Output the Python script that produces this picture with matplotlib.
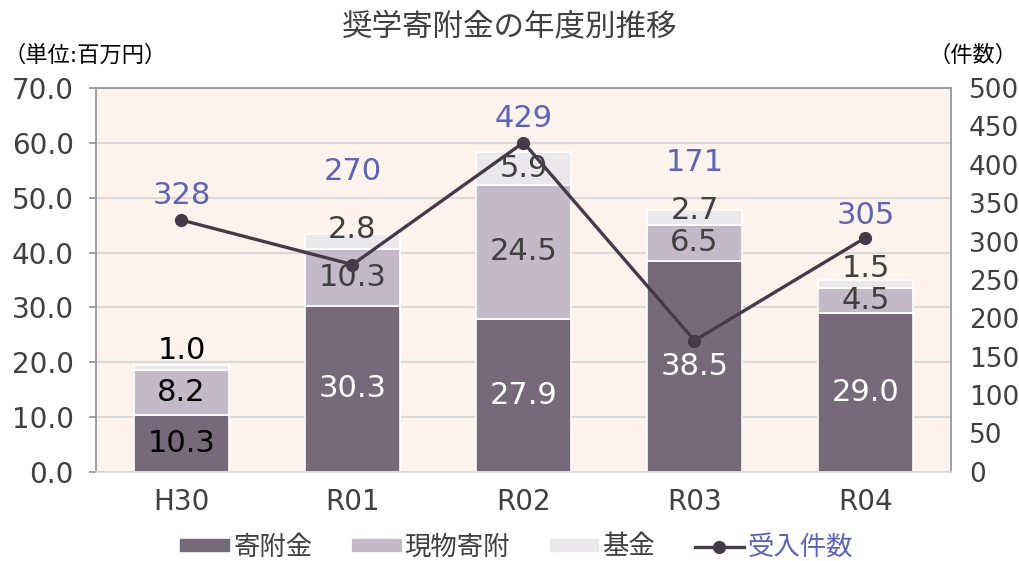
import numpy as np
import matplotlib.pyplot as plt
from matplotlib.patches import Patch
from matplotlib.lines import Line2D

plt.rcParams['font.family'] = ['DejaVu Sans', 'Noto Sans CJK JP']

years = ["H30", "R01", "R02", "R03", "R04"]
kifu = [10.3, 30.3, 27.9, 38.5, 29.0]
genbutsu = [8.2, 10.3, 24.5, 6.5, 4.5]
kikin = [1.0, 2.8, 5.9, 2.7, 1.5]
counts = [328, 270, 429, 171, 305]

# hand-placed label offsets (points), as in the original chart
count_off = [18, 67, 17, 128, 16]
kikin_off = [12, 9, 0, 5, 11]

c_dark = "#76697a"
c_mid = "#c2bac6"
c_light = "#ebe8ec"
c_line = "#463a4a"
c_blue = "#5b65b8"
c_text = "#404040"

fig = plt.figure(figsize=(10.19, 5.61), dpi=100)
ax = fig.add_axes([0.0942, 0.159, 0.839, 0.684])
ax.set_facecolor("#fdf3ec")

x = np.arange(len(years))
w = 0.56
ax.bar(x, kifu, w, color=c_dark, edgecolor="white", linewidth=1.2, zorder=2)
ax.bar(x, genbutsu, w, bottom=kifu, color=c_mid, edgecolor="white", linewidth=1.2, zorder=2)
bot3 = np.array(kifu) + np.array(genbutsu)
ax.bar(x, kikin, w, bottom=bot3, color=c_light, edgecolor="white", linewidth=1.2, zorder=2)

ax.set_ylim(0, 70)
ax.set_xlim(-0.5, len(years) - 0.5)
ax.set_yticks(np.arange(0, 71, 10))
ax.set_yticklabels([f"{v:.1f}" for v in np.arange(0, 71, 10)], fontsize=20, color=c_text)
ax.set_xticks(x)
ax.set_xticklabels(years, fontsize=20, color=c_text)
ax.tick_params(axis="x", length=0, pad=12)
ax.tick_params(axis="y", length=5, width=1.2, color="#909090", pad=11)
ax.grid(axis="y", color="#d9d9d9", linewidth=1.5, zorder=0)
ax.set_axisbelow(True)
for s in ax.spines.values():
    s.set_color("#909090")
    s.set_linewidth(1.2)
ax.spines["bottom"].set_color("#d9d9d9")

# data labels inside bars
for i in range(len(years)):
    first = i == 0
    ax.text(x[i], kifu[i] / 2, f"{kifu[i]:.1f}", ha="center", va="center",
            fontsize=22, color="black" if first else "white", zorder=3)
    ax.text(x[i], kifu[i] + genbutsu[i] / 2, f"{genbutsu[i]:.1f}", ha="center", va="center",
            fontsize=22, color="black" if first else c_text, zorder=3)
    ax.annotate(f"{kikin[i]:.1f}", (x[i], bot3[i] + kikin[i] / 2), xytext=(0, kikin_off[i]),
                textcoords="offset points", ha="center", va="center",
                fontsize=22, color="black" if first else c_text, zorder=3)

ax2 = ax.twinx()
ax2.set_ylim(0, 500)
ax2.set_yticks(np.arange(0, 501, 50))
ax2.set_yticklabels([str(v) for v in range(0, 501, 50)], fontsize=19, color=c_text)
ax2.tick_params(axis="y", length=0, pad=13)
for s in ax2.spines.values():
    s.set_visible(False)
ax2.plot(x, counts, color=c_line, linewidth=2.4, marker="o", markersize=8.5, zorder=4)
for i, c in enumerate(counts):
    ax2.annotate(str(c), (x[i], c), xytext=(0, count_off[i]), textcoords="offset points",
                 ha="center", va="center", fontsize=22, color=c_blue)

fig.text(0.5, 0.952, "奨学寄附金の年度別推移", ha="center", va="center", fontsize=22, color=c_text)
fig.text(0.003, 0.902, "（単位:百万円）", ha="left", va="center", fontsize=16, color="black")
fig.text(0.999, 0.902, "（件数）", ha="right", va="center", fontsize=16, color="black")

handles = [Patch(color=c_dark), Patch(color=c_mid), Patch(color=c_light),
           Line2D([], [], color=c_line, linewidth=2.4, marker="o", markersize=8.5)]
leg = fig.legend(handles, ["寄附金", "現物寄附", "基金", "受入件数"], loc="center",
                 bbox_to_anchor=(0.507, 0.024), ncol=4, frameon=False, fontsize=19,
                 handlelength=1.85, handleheight=0.37, columnspacing=1.5, handletextpad=0.15)
for t, col in zip(leg.get_texts(), [c_text, c_text, c_text, c_blue]):
    t.set_color(col)

fig.savefig("out.png", dpi=100)
